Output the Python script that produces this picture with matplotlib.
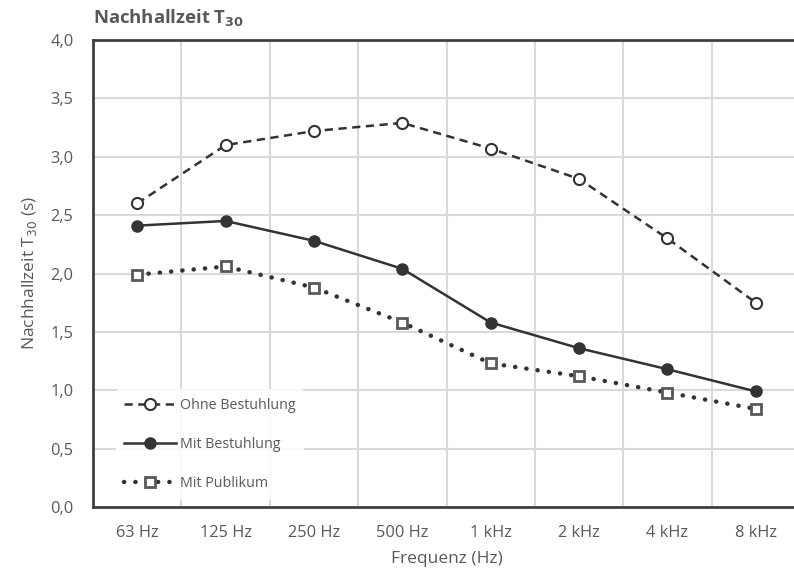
import matplotlib
matplotlib.use("Agg")
import matplotlib.pyplot as plt
import numpy as np

categories = ["63 Hz", "125 Hz", "250 Hz", "500 Hz", "1 kHz", "2 kHz", "4 kHz", "8 kHz"]
ohne = [2.60, 3.10, 3.22, 3.29, 3.07, 2.81, 2.30, 1.75]
mit = [2.41, 2.45, 2.28, 2.04, 1.58, 1.36, 1.18, 0.99]
publikum = [1.99, 2.06, 1.88, 1.58, 1.23, 1.12, 0.98, 0.84]
yticks = [0.0, 0.5, 1.0, 1.5, 2.0, 2.5, 3.0, 3.5, 4.0]

plt.rcParams['font.family'] = ['Open Sans', 'DejaVu Sans']
txt = '#595959'
dark = '#333333'

fig = plt.figure(figsize=(7.94, 5.74), dpi=100)
ax = fig.add_axes([93/794, 67/574, 707/794, 467/574])

x = np.arange(len(categories))
ax.plot(x, ohne, color=dark, lw=1.8, ls=(0, (3.3, 2.2)), marker='o', ms=8,
        mfc='white', mec=dark, mew=1.5, label='Ohne Bestuhlung', zorder=3)
ax.plot(x, mit, color=dark, lw=1.8, ls='-', marker='o', ms=8,
        mfc=dark, mec=dark, label='Mit Bestuhlung', zorder=3)
ax.plot(x, publikum, color=dark, lw=3.2, ls=(0, (0.05, 2.5)), dash_capstyle='round',
        marker='s', ms=7.5, mfc='white', mec='#595959', mew=2, label='Mit Publikum', zorder=3)

ax.set_xlim(-0.5, len(categories) - 0.5)
ax.set_ylim(0, 4)
ax.set_xticks(x)
ax.set_xticklabels(categories)
ax.set_xticks(np.arange(len(categories)) + 0.5, minor=True)
ax.set_yticks(yticks)
ax.set_yticklabels([f"{v:.1f}".replace('.', ',') for v in yticks])
ax.tick_params(axis='both', which='both', length=0, labelsize=11.8, colors=txt)
ax.tick_params(axis='x', pad=13)
ax.tick_params(axis='y', pad=14)
ax.grid(True, which='minor', axis='x', color='#d9d9d9', lw=1.5)
ax.grid(True, which='major', axis='y', color='#d9d9d9', lw=1.5)
ax.set_axisbelow(True)

for s in ['left', 'bottom', 'top']:
    ax.spines[s].set_color('#404040')
    ax.spines[s].set_linewidth(2)
ax.spines['right'].set_visible(False)

ax.set_ylabel('Nachhallzeit T$_{30}$ (s)', color=txt, fontsize=12.5, labelpad=8)
ax.set_xlabel('Frequenz (Hz)', color=txt, fontsize=12.5, labelpad=7)

fig.text(93/794, 1 - 18/574, 'Nachhallzeit T$_{\\mathbf{30}}$', fontsize=13.3, fontweight='bold',
         color=txt, ha='left', va='center')

leg = ax.legend(loc='lower left', bbox_to_anchor=(0.022, 0.0), frameon=True, fontsize=10.3,
                handlelength=3.6, labelspacing=1.7, borderpad=0.6, handletextpad=0.3,
                labelcolor=txt)
leg.get_frame().set_facecolor('white')
leg.get_frame().set_edgecolor('none')
leg.get_frame().set_alpha(0.85)

fig.savefig('out.png', dpi=100)
